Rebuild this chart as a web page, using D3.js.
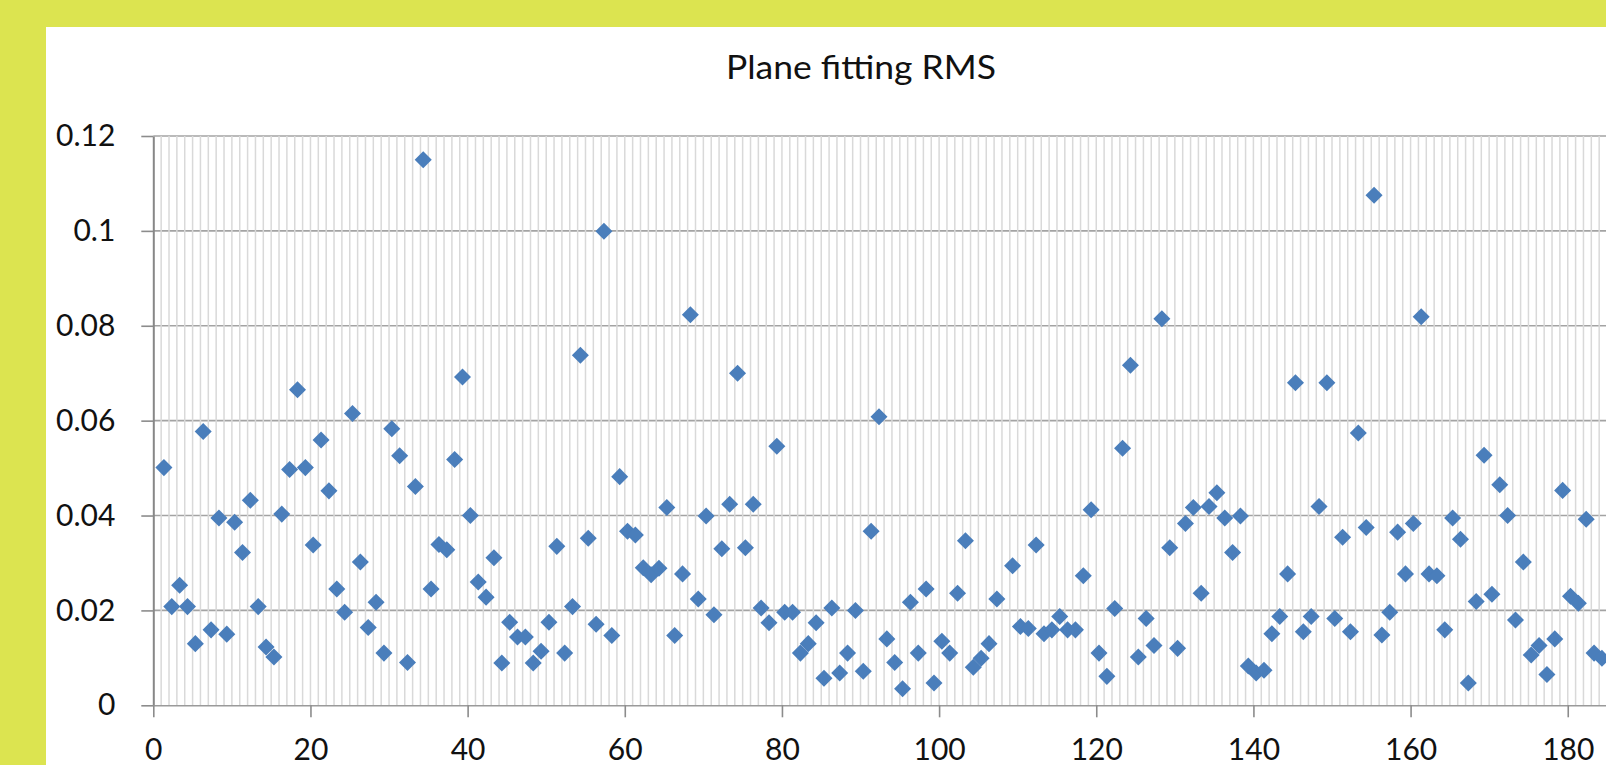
<!DOCTYPE html>
<html>
<head>
<meta charset="utf-8">
<script src="https://cdn.jsdelivr.net/npm/d3@7"></script>
<style>
  html, body { margin: 0; padding: 0; background: #dce450; overflow: hidden; }
  svg { display: block; }
  text { font-family: Lato, "Open Sans", sans-serif; }
</style>
</head>
<body>
<svg id="chart" width="1606" height="765"></svg>
<script>
// ---- data ----
const title = "Plane fitting RMS";

const xValues = [
  1.35, 2.35, 3.35, 4.35, 5.35, 6.35, 7.35, 8.35, 9.35, 10.35,
  11.35, 12.35, 13.35, 14.35, 15.35, 16.35, 17.35, 18.35, 19.35, 20.35,
  21.35, 22.35, 23.35, 24.35, 25.35, 26.35, 27.35, 28.35, 29.35, 30.35,
  31.35, 32.35, 33.35, 34.35, 35.35, 36.35, 37.35, 38.35, 39.35, 40.35,
  41.35, 42.35, 43.35, 44.35, 45.35, 46.35, 47.35, 48.35, 49.35, 50.35,
  51.35, 52.35, 53.35, 54.35, 55.35, 56.35, 57.35, 58.35, 59.35, 60.35,
  61.35, 62.35, 63.35, 64.35, 65.35, 66.35, 67.35, 68.35, 69.35, 70.35,
  71.35, 72.35, 73.35, 74.35, 75.35, 76.35, 77.35, 78.35, 79.35, 80.35,
  81.35, 82.35, 83.35, 84.35, 85.35, 86.35, 87.35, 88.35, 89.35, 90.35,
  91.35, 92.35, 93.35, 94.35, 95.35, 96.35, 97.35, 98.35, 99.35, 100.35,
  101.35, 102.35, 103.35, 104.35, 105.35, 106.35, 107.35, 109.35, 110.35,
  111.35, 112.35, 113.35, 114.35, 115.35, 116.35, 117.35, 118.35, 119.35, 120.35,
  121.35, 122.35, 123.35, 124.35, 125.35, 126.35, 127.35, 128.35, 129.35, 130.35,
  131.35, 132.35, 133.35, 134.35, 135.35, 136.35, 137.35, 138.35, 139.35, 140.35,
  141.35, 142.35, 143.35, 144.35, 145.35, 146.35, 147.35, 148.35, 149.35, 150.35,
  151.35, 152.35, 153.35, 154.35, 155.35, 156.35, 157.35, 158.35, 159.35, 160.35,
  161.35, 162.35, 163.35, 164.35, 165.35, 166.35, 167.35, 168.35, 169.35, 170.35,
  171.35, 172.35, 173.35, 174.35, 175.35, 176.35, 177.35, 178.35, 179.35, 180.35,
  181.35, 182.35, 183.35, 184.35
];

const rmsValues = [
  0.0501, 0.0208, 0.0253, 0.0208, 0.0130, 0.0577, 0.0159, 0.0395, 0.0150, 0.0386,
  0.0322, 0.0432, 0.0208, 0.0123, 0.0102, 0.0403, 0.0497, 0.0665, 0.0501, 0.0338,
  0.0559, 0.0452, 0.0245, 0.0196, 0.0615, 0.0302, 0.0164, 0.0217, 0.0110, 0.0583,
  0.0526, 0.0090, 0.0461, 0.1150, 0.0245, 0.0339, 0.0328, 0.0518, 0.0692, 0.0400,
  0.0260, 0.0228, 0.0311, 0.0089, 0.0175, 0.0144, 0.0144, 0.0089, 0.0114, 0.0175,
  0.0335, 0.0110, 0.0208, 0.0738, 0.0352, 0.0171, 0.0999, 0.0147, 0.0482, 0.0367,
  0.0359, 0.0290, 0.0275, 0.0289, 0.0417, 0.0147, 0.0277, 0.0823, 0.0224, 0.0399,
  0.0191, 0.0330, 0.0424, 0.0700, 0.0332, 0.0424, 0.0205, 0.0174, 0.0546, 0.0196,
  0.0196, 0.0110, 0.0130, 0.0174, 0.0057, 0.0205, 0.0068, 0.0110, 0.0200, 0.0072,
  0.0367, 0.0608, 0.0140, 0.0090, 0.0035, 0.0217, 0.0110, 0.0245, 0.0047, 0.0135,
  0.0110, 0.0236, 0.0347, 0.0080, 0.0099, 0.0130, 0.0224, 0.0294, 0.0166,
  0.0162, 0.0338, 0.0151, 0.0159, 0.0187, 0.0159, 0.0159, 0.0273, 0.0412, 0.0110,
  0.0061, 0.0204, 0.0542, 0.0717, 0.0102, 0.0183, 0.0126, 0.0815, 0.0332, 0.0120,
  0.0383, 0.0417, 0.0236, 0.0419, 0.0448, 0.0395, 0.0322, 0.0399, 0.0083, 0.0068,
  0.0074, 0.0151, 0.0187, 0.0277, 0.0680, 0.0155, 0.0187, 0.0419, 0.0680, 0.0183,
  0.0354, 0.0155, 0.0574, 0.0375, 0.1075, 0.0148, 0.0196, 0.0365, 0.0277, 0.0383,
  0.0819, 0.0277, 0.0273, 0.0159, 0.0395, 0.0350, 0.0047, 0.0219, 0.0527, 0.0234,
  0.0465, 0.0400, 0.0180, 0.0302, 0.0106, 0.0126, 0.0065, 0.0140, 0.0453, 0.0230,
  0.0215, 0.0392, 0.0110, 0.0099
];

const xTicks = [0, 20, 40, 60, 80, 100, 120, 140, 160, 180];
const yTicks = [0, 0.02, 0.04, 0.06, 0.08, 0.1, 0.12];
const yTickLabels = ["0", "0.02", "0.04", "0.06", "0.08", "0.1", "0.12"];
const xDomain = [0, 200];
const yDomain = [0, 0.12];

// ---- drawing ----
(function () {
const svg = d3.select("#chart");
const W = 1606, H = 765;

svg.append("rect").attr("width", W).attr("height", H).attr("fill", "#dce450");
svg.append("rect").attr("x", 46).attr("y", 27).attr("width", W - 46).attr("height", H - 27).attr("fill", "#ffffff");

const plotLeft = 153.3, plotTop = 136, plotBottom = 705.3, unit = 7.858;
const x = d3.scaleLinear().domain(xDomain).range([plotLeft, plotLeft + unit * (xDomain[1] - xDomain[0])]);
const y = d3.scaleLinear().domain(yDomain).range([plotBottom, plotTop]);

// title
svg.append("text")
  .attr("x", 861).attr("y", 78.5)
  .attr("text-anchor", "middle")
  .attr("font-size", 33)
  .attr("fill", "#111")
  .attr("textLength", 270)
  .attr("lengthAdjust", "spacingAndGlyphs")
  .text(title);

const grid = svg.append("g");
// major horizontal gridlines
grid.selectAll("line.h").data(yTicks.filter(d => d > 0)).join("line")
  .attr("class", "h")
  .attr("x1", x(xDomain[0])).attr("x2", x(xDomain[1]))
  .attr("y1", d => y(d)).attr("y2", d => y(d))
  .attr("stroke", "#a3a3a3").attr("stroke-width", 1.6);

// minor vertical gridlines every 1 unit
const minor = d3.range(xDomain[0] + 1, xDomain[1] + 1, 1);
grid.selectAll("line.v").data(minor).join("line")
  .attr("class", "v")
  .attr("x1", d => x(d)).attr("x2", d => x(d))
  .attr("y1", y(yDomain[0])).attr("y2", y(yDomain[1]))
  .attr("stroke", "#d9d9d9").attr("stroke-width", 1.5);

// axes
const yAxis = d3.axisLeft(y)
  .tickValues(yTicks)
  .tickFormat((d, i) => yTickLabels[i])
  .tickSizeInner(12).tickSizeOuter(0).tickPadding(26);
const gy = svg.append("g").attr("transform", `translate(${plotLeft},0)`).call(yAxis);
gy.select(".domain").attr("stroke", "#878787").attr("stroke-width", 2);
gy.selectAll(".tick line").attr("stroke", "#8c8c8c").attr("stroke-width", 1.6);
gy.selectAll(".tick text").attr("font-size", 30).attr("fill", "#111").attr("font-family", "Lato, sans-serif");

const xAxis = d3.axisBottom(x)
  .tickValues(xTicks)
  .tickFormat(d3.format("d"))
  .tickSizeInner(12).tickSizeOuter(0).tickPadding(21);
const gx = svg.append("g").attr("transform", `translate(0,${plotBottom})`).call(xAxis);
gx.select(".domain").attr("stroke", "#9a9a9a").attr("stroke-width", 1.6);
gx.selectAll(".tick line").attr("stroke", "#8c8c8c").attr("stroke-width", 1.6);
gx.selectAll(".tick text").attr("font-size", 30).attr("fill", "#111").attr("font-family", "Lato, sans-serif");

// points (diamonds)
const pts = xValues.map((xv, i) => ({ x: xv, y: rmsValues[i] }));
const diamond = d3.symbol().type(d3.symbolSquare).size(145);
svg.append("g").selectAll("path").data(pts).join("path")
  .attr("d", diamond)
  .attr("transform", d => `translate(${x(d.x)},${y(d.y)}) rotate(45)`)
  .attr("fill", "#4a7ebb");
})();
</script>
</body>
</html>
